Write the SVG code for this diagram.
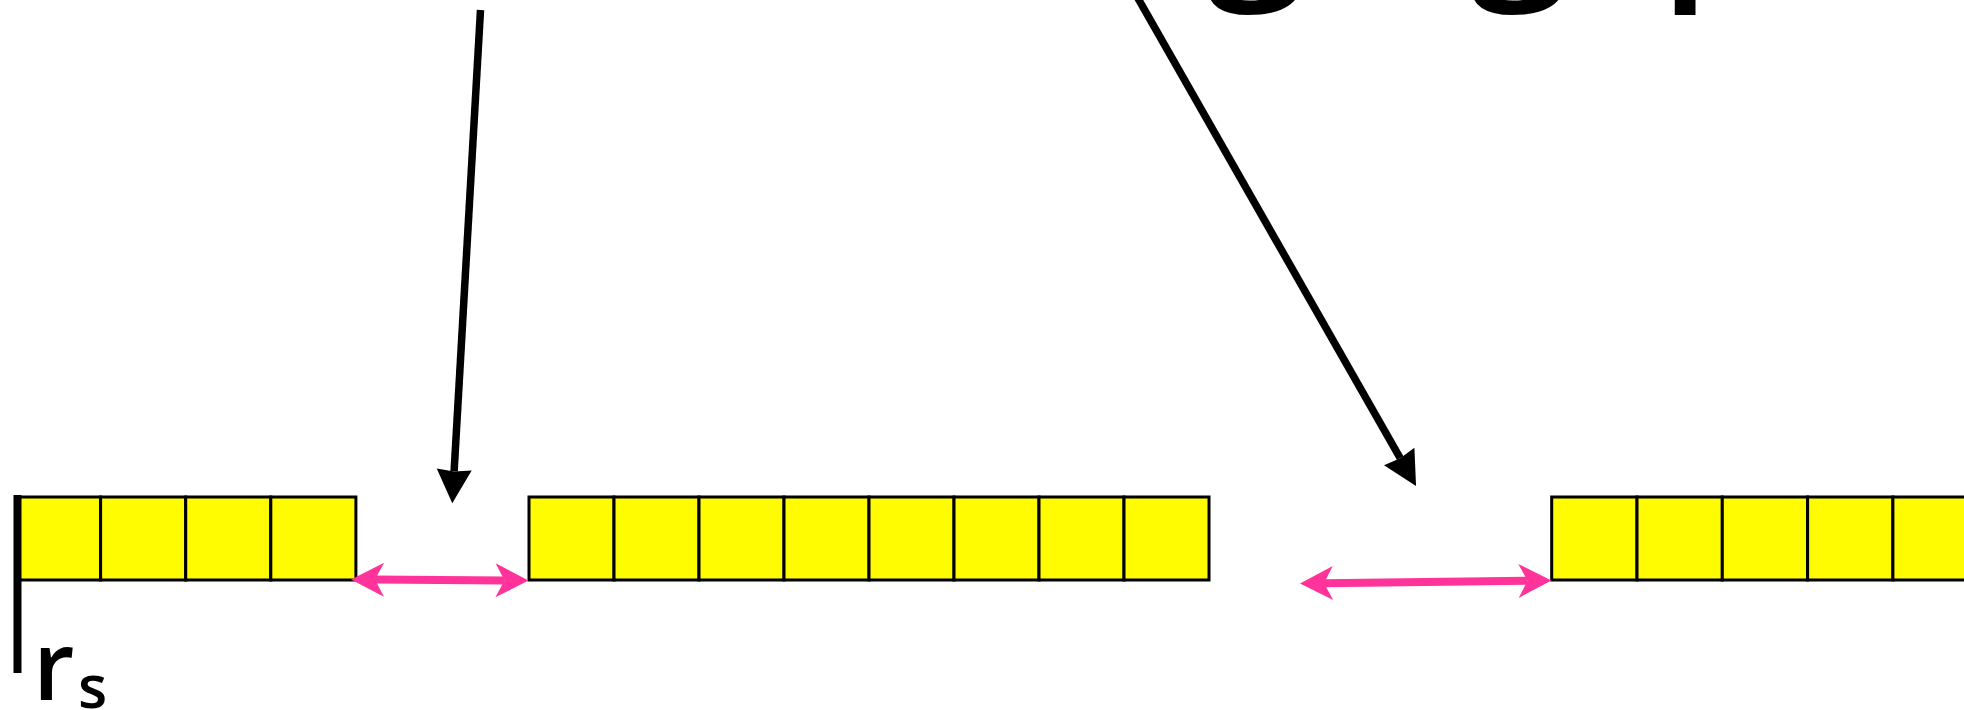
<svg xmlns="http://www.w3.org/2000/svg" width="1964" height="710" viewBox="0 0 1964 710">
  <style>
    .cell { fill: #FFFB00; stroke: #000; stroke-width: 3; }
    .gap { stroke: #FF3399; stroke-width: 8; fill: none; }
    .ptr { stroke: #000; stroke-width: 7.5; fill: none; }
    .lbl { font-family: "Open Sans", "Liberation Sans", sans-serif; fill: #000; font-weight: 600; }
  </style>
  <defs>
    <marker id="pinkHead" markerUnits="userSpaceOnUse" viewBox="-1 -18 36 36" markerWidth="36" markerHeight="36" refX="9" refY="0" orient="auto-start-reverse">
      <path d="M33,0 L0,-17 L9,0 L0,17 Z" fill="#FF3399"/>
    </marker>
    <marker id="blackHead" markerUnits="userSpaceOnUse" viewBox="-1 -19 37 38" markerWidth="37" markerHeight="38" refX="2" refY="0" orient="auto">
      <path d="M34,0 L0,-17.5 L2,0 L0,17.5 Z" fill="#000"/>
    </marker>
  </defs>

  <!-- cut-off title text (descenders only visible) -->
  <g id="title">
    <text class="lbl" font-size="180" x="1256" y="-28" text-anchor="middle">g</text>
    <text class="lbl" font-size="180" x="1519.5" y="-28" text-anchor="middle">g</text>
    <text class="lbl" font-size="180" x="1660" y="-28">p</text>
  </g>

  <!-- group 1 -->
  <g id="group1">
    <rect class="cell" x="15.5" y="497" width="85.1" height="83"/>
    <rect class="cell" x="100.6" y="497" width="85.1" height="83"/>
    <rect class="cell" x="185.7" y="497" width="85.1" height="83"/>
    <rect class="cell" x="270.8" y="497" width="85.1" height="83"/>
  </g>

  <!-- group 2 -->
  <g id="group2">
    <rect class="cell" x="529" y="497" width="85" height="83"/>
    <rect class="cell" x="614" y="497" width="85" height="83"/>
    <rect class="cell" x="699" y="497" width="85" height="83"/>
    <rect class="cell" x="784" y="497" width="85" height="83"/>
    <rect class="cell" x="869" y="497" width="85" height="83"/>
    <rect class="cell" x="954" y="497" width="85" height="83"/>
    <rect class="cell" x="1039" y="497" width="85" height="83"/>
    <rect class="cell" x="1124" y="497" width="85" height="83"/>
  </g>

  <!-- group 3 -->
  <g id="group3">
    <rect class="cell" x="1551.7" y="497" width="85.3" height="83"/>
    <rect class="cell" x="1637" y="497" width="85.3" height="83"/>
    <rect class="cell" x="1722.3" y="497" width="85.3" height="83"/>
    <rect class="cell" x="1807.6" y="497" width="85.3" height="83"/>
    <rect class="cell" x="1892.9" y="497" width="85.3" height="83"/>
  </g>

  <!-- rs marker -->
  <g id="rs">
    <rect x="13.5" y="495" width="8" height="178" fill="#000"/>
    <text class="lbl"><tspan x="33" y="700" font-size="96">r</tspan><tspan x="78" y="708" font-size="60">s</tspan></text>
  </g>

  <!-- connectors -->
  <g id="connectors">
    <line class="gap" x1="375" y1="579.6" x2="504.5" y2="580.4" marker-start="url(#pinkHead)" marker-end="url(#pinkHead)"/>
    <line class="gap" x1="1324" y1="583.2" x2="1527.5" y2="580.8" marker-start="url(#pinkHead)" marker-end="url(#pinkHead)"/>
    <line class="ptr" x1="480.5" y1="10" x2="454.1" y2="471.4" marker-end="url(#blackHead)"/>
    <line class="ptr" x1="1130.4" y1="-15" x2="1400.2" y2="458.2" marker-end="url(#blackHead)"/>
  </g>
</svg>
